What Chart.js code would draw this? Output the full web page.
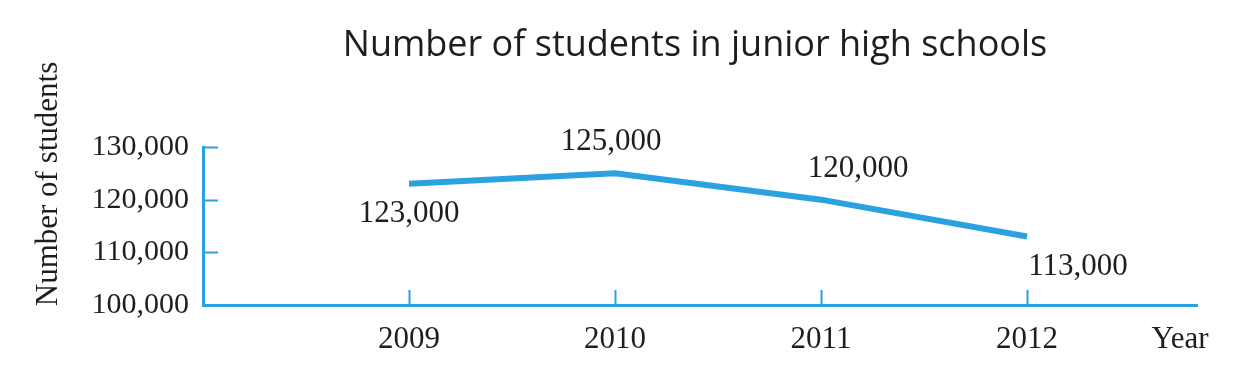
<!DOCTYPE html>
<html>
<head>
<meta charset="utf-8">
<script src="https://cdn.jsdelivr.net/npm/chart.js@4"></script>
<style>
  html, body { margin: 0; padding: 0; background: #fff; }
  #wrap { width: 1259px; height: 374px; }
</style>
</head>
<body>
<div id="wrap"><canvas id="chart"></canvas></div>
<script>
const years = [2009, 2010, 2011, 2012];
const students = [123000, 125000, 120000, 113000];
const valueLabels = ['123,000', '125,000', '120,000', '113,000'];
const yTicks = [110000, 120000, 130000];
const chartTitle = 'Number of students in junior high schools';

const blue = '#2ba2df';
const ink = '#1e1e1e';
const serif = '"Liberation Serif", "DejaVu Serif", serif';

// where each value label sits relative to its point
const labelOffsets = [[0, 30], [-4, -31], [37, -31], [51, 30]];

const extras = {
    id: 'extras',
    afterDraw(chart) {
        const c = chart.ctx;
        const xs = chart.scales.x;
        const ys = chart.scales.y;
        const area = chart.chartArea;
        c.save();
        // inward tick marks
        c.strokeStyle = blue;
        c.lineWidth = 2;
        c.beginPath();
        yTicks.forEach(v => {
            const py = Math.round(ys.getPixelForValue(v)) + 0.5;
            c.moveTo(area.left, py);
            c.lineTo(area.left + 15, py);
        });
        years.forEach(v => {
            const px = Math.round(xs.getPixelForValue(v)) + 0.5;
            c.moveTo(px, area.bottom);
            c.lineTo(px, area.bottom - 15);
        });
        c.stroke();

        c.fillStyle = ink;
        c.textAlign = 'center';
        c.textBaseline = 'middle';

        // title, centred over the plot rather than the canvas
        c.font = '36px "Open Sans", Lato, sans-serif';
        c.fillText(chartTitle, 695, 46);

        // value labels
        const meta = chart.getDatasetMeta(0);
        c.font = '31px ' + serif;
        meta.data.forEach((pt, i) => {
            c.fillText(valueLabels[i], pt.x + labelOffsets[i][0], pt.y + labelOffsets[i][1]);
        });

        // "Year" at the end of the x axis
        c.font = '31px ' + serif;
        c.fillText('Year', area.right - 17, area.bottom + 35);

        // y axis title
        c.translate(49, 184);
        c.rotate(-Math.PI / 2);
        c.font = '31px ' + serif;
        c.fillText('Number of students', 0, 0);
        c.restore();
    }
};

new Chart(document.getElementById('chart'), {
    type: 'line',
    data: {
        datasets: [{
            data: years.map((y, i) => ({ x: y, y: students[i] })),
            borderColor: blue,
            borderWidth: 6,
            pointRadius: 0,
            tension: 0
        }]
    },
    plugins: [extras],
    options: {
        responsive: true,
        maintainAspectRatio: false,
        animation: false,
        layout: { padding: { left: 0, right: 62, top: 147, bottom: 0 } },
        plugins: {
            legend: { display: false },
            tooltip: { enabled: false },
            title: { display: false }
        },
        scales: {
            x: {
                type: 'linear',
                min: 2008,
                max: 2012.825,
                grid: { display: false },
                border: { display: true, color: blue, width: 3 },
                ticks: {
                    stepSize: 1,
                    includeBounds: false,
                    padding: 8,
                    color: ink,
                    font: { family: serif, size: 31 },
                    callback: v => (v >= 2009 && Number.isInteger(v)) ? String(v) : ''
                },
                afterFit: s => { s.height = 69; }
            },
            y: {
                min: 100000,
                max: 130000,
                grid: { display: false },
                border: { display: true, color: blue, width: 3 },
                ticks: {
                    stepSize: 10000,
                    padding: 6,
                    color: ink,
                    font: { family: serif, size: 30 },
                    callback: v => v.toLocaleString('en-US')
                },
                afterFit: s => { s.width = 203; }
            }
        }
    }
});
</script>
</body>
</html>
